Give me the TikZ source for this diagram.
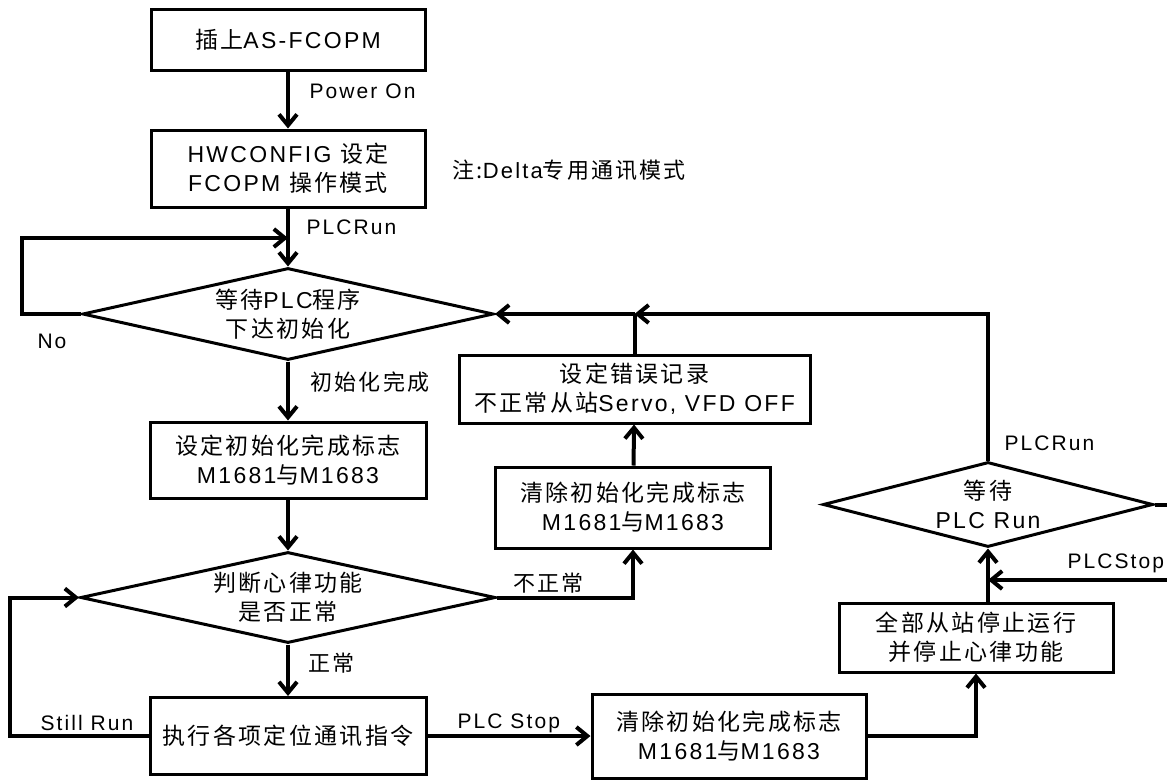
\documentclass[tikz,border=0pt]{standalone}
\usepackage{fontspec}
\setmainfont[LetterSpace=10]{Liberation Sans}
\newfontfamily\cjk[LetterSpace=10]{Noto Sans CJK SC}
\usetikzlibrary{arrows.meta, shapes.geometric}

\begin{document}
\begin{tikzpicture}[x=1pt, y=-1pt, line width=3pt,
        >={Straight Barb[length=11pt, width=18pt]},
        every node/.style={font=\fontsize{23}{29}\selectfont, inner sep=0pt},
        box/.style={rectangle, draw, align=center},
        dia/.style={diamond, draw, align=center},
        lbl/.style={anchor=west, font=\fontsize{21}{25}\selectfont},
        flow/.style={line width=4pt}]
        \useasboundingbox (0,0) rectangle (1167,780);
        \node[box, minimum width=274, minimum height=61] (plug) at (288,39.5) {{\cjk 插上}AS-FCOPM};
        \node[box, minimum width=274, minimum height=77] (hwcfg) at (288,168.5) {HWCONFIG {\cjk 设定}\\FCOPM {\cjk 操作模式}};
        \node[lbl, font=\fontsize{22}{25}\selectfont] (note) at (451,170) {{\cjk 注:}Delta{\cjk 专用通讯模式}};
        \node[dia, minimum width=411, minimum height=92, aspect=4.5] (waitinit) at (288,314) {{\cjk 等待}PLC{\cjk 程序}\\{\cjk 下达初始化}};
        \node[box, minimum width=276, minimum height=76] (setflag) at (288,460) {{\cjk 设定初始化完成标志}\\M1681{\cjk 与}M1683};
        \node[dia, minimum width=415, minimum height=91, aspect=4.5] (heart) at (288,597.5) {{\cjk 判断心律功能}\\{\cjk 是否正常}};
        \node[box, minimum width=276, minimum height=77] (exec) at (288,736) {{\cjk 执行各项定位通讯指令}};
        \node[box, minimum width=274, minimum height=84] (clrstop) at (729,736) {{\cjk 清除初始化完成标志}\\M1681{\cjk 与}M1683};
        \node[box, minimum width=274, minimum height=69] (stopall) at (976,637.5) {{\cjk 全部从站停止运行}\\{\cjk 并停止心律功能}};
        \node[dia, minimum width=330, minimum height=85, aspect=3.9] (waitrun) at (988,504.5) {{\cjk 等待}\\PLC Run};
        \node[box, minimum width=351, minimum height=68] (errlog) at (634.5,389) {{\cjk 设定错误记录}\\{\cjk 不正常从站}Servo, VFD OFF};
        \node[box, minimum width=275, minimum height=81] (clrerr) at (633,507.5) {{\cjk 清除初始化完成标志}\\M1681{\cjk 与}M1683};
        \coordinate (jn1) at (288,238);
        \coordinate (jn2) at (errlog.north |- waitinit.east);
        \coordinate (jn3) at (988,580);
        \draw[flow, ->] (plug) -- (hwcfg);
        \draw[flow, ->] (hwcfg) -- (waitinit);
        \draw[flow, ->] (waitinit.west) -- ++(-59,0) |- (jn1);
        \draw[flow, ->] (waitinit) -- (setflag);
        \draw[flow, ->] (setflag) -- (heart);
        \draw[flow, ->] (heart) -- (exec);
        \draw[flow, ->] (exec.west) -- ++(-139,0) |- (heart.west);
        \draw[flow, ->] (exec) -- (clrstop);
        \draw[flow, ->] (clrstop.east) -| (stopall.south);
        \draw[flow, ->] (stopall.north -| waitrun.south) -- (waitrun.south);
        \draw[flow, ->] (waitrun.east) -- ++(40,0) |- (jn3);
        \draw[flow, ->] (waitrun.north) |- (jn2);
        \draw[flow, ->] (jn2) -- (waitinit.east);
        \draw[flow] (errlog.north) -- (jn2);
        \draw[flow, ->] (clrerr) -- (errlog);
        \draw[flow, ->] (heart.east) -| (clrerr.south);
        \node[lbl] (lpower) at (308,91) {Power On};
        \node[lbl] (lrun1) at (305,227) {PLCRun};
        \node[lbl] (lno) at (36,341) {No};
        \node[lbl, font=\fontsize{22}{25}\selectfont] (ldone) at (309,382) {{\cjk 初始化完成}};
        \node[lbl, font=\fontsize{22}{25}\selectfont] (lok) at (307,663) {{\cjk 正常}};
        \node[lbl] (lstill) at (39,723) {Still Run};
        \node[lbl] (lstop1) at (456,723) {PLC Stop};
        \node[lbl, font=\fontsize{22}{25}\selectfont] (lbad) at (512,583) {{\cjk 不正常}};
        \node[lbl] (lrun2) at (1003,443) {PLCRun};
        \node[lbl] (lstop2) at (1066,563) {PLCStop};
\end{tikzpicture}
\end{document}
